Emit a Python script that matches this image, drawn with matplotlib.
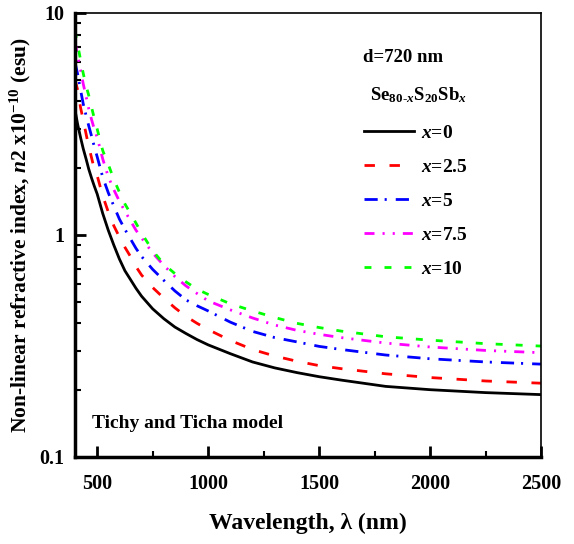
import matplotlib
matplotlib.use("Agg")
import matplotlib.pyplot as plt
from matplotlib.ticker import NullFormatter, LogLocator

plt.rcParams['font.family'] = ['Liberation Serif', 'DejaVu Serif']
plt.rcParams['font.weight'] = 'bold'
plt.rcParams['mathtext.fontset'] = 'custom'
plt.rcParams['mathtext.rm'] = 'Liberation Serif:bold'
plt.rcParams['mathtext.it'] = 'Liberation Serif:italic:bold'
plt.rcParams['mathtext.bf'] = 'Liberation Serif:bold'
plt.rcParams['lines.scale_dashes'] = False

# Wavelength (nm)
wavelength = [400, 412, 425, 437, 450, 462, 475, 487, 500, 525, 550, 575, 600,
              625, 650, 675, 700, 750, 800, 850, 900, 950, 1000, 1100, 1200,
              1300, 1400, 1500, 1600, 1800, 2000, 2250, 2500]
# n2 x 1e-10 (esu)
n2_x0 = [3.66, 3.15, 2.75, 2.45, 2.2, 1.98, 1.8, 1.66, 1.53, 1.25, 1.05, 0.9, 0.78,
         0.69, 0.63, 0.575, 0.53, 0.465, 0.42, 0.385, 0.36, 0.338, 0.32, 0.292, 0.268,
         0.252, 0.24, 0.23, 0.222, 0.208, 0.201, 0.195, 0.191]
n2_x25 = [5.0, 4.5, 3.75, 3.3, 2.85, 2.5, 2.22, 1.98, 1.85, 1.5, 1.27, 1.1, 0.98,
          0.88, 0.8, 0.72, 0.66, 0.58, 0.52, 0.47, 0.43, 0.4, 0.375, 0.335, 0.305,
          0.285, 0.27, 0.258, 0.25, 0.237, 0.228, 0.22, 0.215]
n2_x5 = [6.0, 5.3, 4.5, 3.9, 3.45, 3.1, 2.78, 2.5, 2.25, 1.82, 1.55, 1.35, 1.18,
         1.06, 0.96, 0.87, 0.8, 0.7, 0.625, 0.56, 0.51, 0.48, 0.455, 0.405, 0.368,
         0.345, 0.33, 0.315, 0.305, 0.288, 0.277, 0.268, 0.262]
n2_x75 = [7.4, 6.4, 5.55, 4.8, 4.2, 3.7, 3.3, 3.0, 2.75, 2.2, 1.83, 1.6, 1.42,
          1.28, 1.16, 1.05, 0.97, 0.83, 0.73, 0.65, 0.59, 0.545, 0.505, 0.46, 0.423,
          0.393, 0.372, 0.357, 0.345, 0.326, 0.313, 0.302, 0.295]
n2_x10 = [8.3, 7.2, 6.15, 5.35, 4.7, 4.25, 3.75, 3.35, 3.0, 2.4, 2.08, 1.78, 1.56,
          1.38, 1.25, 1.13, 1.02, 0.85, 0.74, 0.67, 0.615, 0.57, 0.54, 0.49, 0.455,
          0.425, 0.4, 0.383, 0.369, 0.348, 0.336, 0.324, 0.316]

labels = ['$x$=0', '$x$=2.5', '$x$=5', '$x$=7.5', '$x$=10']
series = [n2_x0, n2_x25, n2_x5, n2_x75, n2_x10]
colors = ['black', '#ff0000', '#0000ff', '#ff00ff', '#00ff00']
styles = ['-', (0, (7.5, 10.5)), (0, (9.5, 5, 1.5, 6.5)),
          (0, (7.2, 5.8, 1.5, 5.8, 1.5, 5.8)), (0, (5, 9.4))]
widths = [2.0, 2.0, 2.0, 2.0, 2.0]

x_ticks = [500, 1000, 1500, 2000, 2500]
x_minor = [750, 1250, 1750, 2250]
y_ticks = [0.1, 1, 10]
y_ticklabels = ['0.1', '1', '10']

fig = plt.figure(figsize=(5.74, 5.44), dpi=100)
ax = fig.add_axes([75/574, 1-457/544, 466/574, 444/544])

handles = []
for y, c, ls, lw, lab in zip(series, colors, styles, widths, labels):
    h, = ax.plot(wavelength, y, color=c, linestyle=ls, lw=lw, label=lab)
    handles.append(h)

ax.set_yscale('log')
ax.set_xlim(400, 2500)
ax.set_ylim(0.1, 10)
ax.set_xticks(x_ticks)
ax.set_xticks(x_minor, minor=True)
ax.set_yticks(y_ticks)
ax.set_yticklabels(y_ticklabels)
ax.yaxis.set_minor_locator(LogLocator(base=10, subs=range(2, 10)))
ax.yaxis.set_minor_formatter(NullFormatter())

ax.tick_params(which='major', direction='in', length=8, width=2, labelsize=14.5)
ax.tick_params(axis='x', which='major', pad=12)
ax.tick_params(axis='y', which='major', pad=8)
ax.tick_params(which='minor', direction='in', length=4.5, width=1.5)
ax.tick_params(top=False, right=False, which='both')
for lab in ax.get_xticklabels() + ax.get_yticklabels():
    lab.set_fontweight('bold')

ax.spines['left'].set_linewidth(2.5)
ax.spines['bottom'].set_linewidth(2.5)
ax.spines['top'].set_linewidth(1.2)
ax.spines['right'].set_linewidth(1.2)

ax.set_xlabel('Wavelength, λ (nm)', fontsize=17, fontweight='bold', labelpad=14)
ax.set_ylabel('Non-linear refractive index, $\\mathit{n}$2 x10$^{-10}$ (esu)',
              fontsize=15.5, fontweight='bold', labelpad=4)

fig.text(363/574, 1-58/544, 'd=720 nm', fontsize=13.5, fontweight='bold',
         va='center', ha='left')
fig.text(370/574, 1-95/544, 'Se$_{80\\text{-}\\mathit{x}}$S$_{20}$Sb$_{\\mathit{x}}$',
         fontsize=13.5, fontweight='bold', va='center', ha='left')
fig.text(92/574, 1-423/544, 'Tichy and Ticha model',
         fontsize=14, fontweight='bold', va='center', ha='left')

leg = ax.legend(handles=handles, loc='upper left', bbox_to_anchor=(346/574, 1-107/544),
                bbox_transform=fig.transFigure, frameon=False, fontsize=14,
                handlelength=2.6, handletextpad=0.35, labelspacing=0.84)
for t in leg.get_texts():
    t.set_fontweight('bold')

fig.savefig('out.png', dpi=100)
